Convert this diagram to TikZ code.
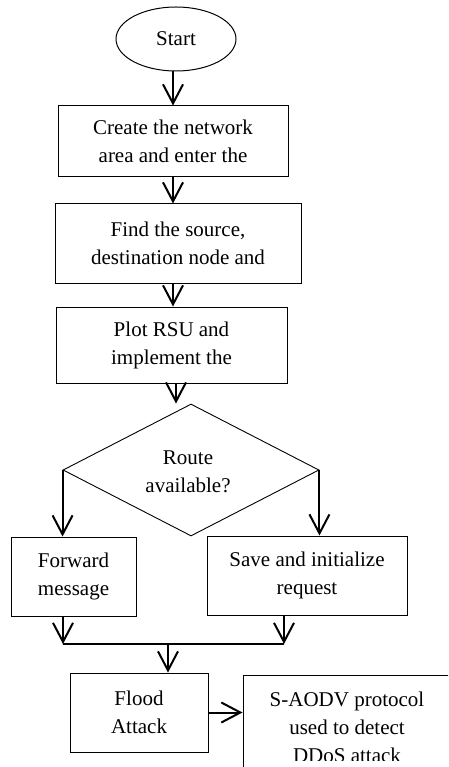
\documentclass[tikz,border=0pt]{standalone}
\usepackage{fontspec}
\setmainfont{Liberation Serif}
\usetikzlibrary{shapes.geometric,arrows.meta}
\tikzset{
  box/.style={draw, line width=1pt, inner sep=0pt, align=center, font=\fontsize{21}{28}\selectfont},
  txt/.style={inner sep=0pt, align=center, font=\fontsize{21}{28}\selectfont},
  arr/.style={line width=2pt, -{Straight Barb[length=19pt,width=20pt,line width=2pt]}},
  ln/.style={line width=2pt}
}
\begin{document}
\begin{tikzpicture}[x=1pt,y=-1pt]
\useasboundingbox (0,0) rectangle (448,767);
\clip (0,0) rectangle (448,767);
\node[box, ellipse, minimum width=120pt, minimum height=64pt] (start) at (176,39) {Start};
\node[box, minimum width=230pt, minimum height=71pt] (box1) at (173,141.5) {Create the network\\area and enter the};
\node[box, minimum width=246pt, minimum height=79pt] (box2) at (178,243.5) {Find the source,\\destination node and};
\node[box, minimum width=231pt, minimum height=76pt] (box3) at (171.5,345) {Plot RSU and\\implement the};
\node[box, diamond, line width=0.9pt, minimum width=256pt, minimum height=132pt] (dia) at (191,470) {};
\node[txt] (route) at (188,472) {Route\\available?};
\node[box, minimum width=125pt, minimum height=79pt] (fwd) at (73.5,576.5) {Forward\\message};
\node[box, minimum width=200pt, minimum height=79pt] (save) at (307,575.5) {Save and initialize\\request};
\node[box, minimum width=138pt, minimum height=79pt] (flood) at (139,712.5) {Flood\\Attack};
\node[box, minimum width=240pt, minimum height=140pt] (sa) at (363,745) {};
\begin{scope}
\clip (0,0) rectangle (448,760);
\node[txt] (satext) at (347,727) {S-AODV protocol\\used to detect\\DDoS attack};
\end{scope}
\coordinate (jl) at (63,644);
\coordinate (jr) at (284,644);
\coordinate (jm) at (168,644);
\draw[arr] (box1.north |- start.south) -- (box1.north);
\draw[arr] (box1.south) -- (box1.south |- box2.north);
\draw[arr] (box1.south |- box2.south) -- (box1.south |- box3.north);
\draw[arr] (start.south |- box3.south) -- (start.south |- dia.north);
\draw[arr] (dia.west) -- (dia.west |- fwd.north);
\draw[arr] (dia.east) -- (dia.east |- save.north);
\draw[arr] (jl |- fwd.south) -- (jl);
\draw[arr] (jr |- save.south) -- (jr);
\draw[ln] (jl) -- (jr);
\draw[arr] (jm) -- (jm |- flood.north);
\draw[arr] (flood.east) -- (flood.east -| sa.west);
\end{tikzpicture}
\end{document}
